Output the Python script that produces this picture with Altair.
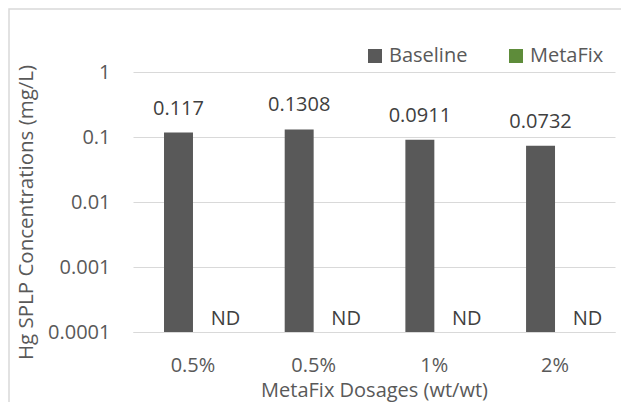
import json
import altair as alt
import pandas as pd

# ---- data ----
groups = ["g1", "g2", "g3", "g4"]
group_labels = ["0.5%", "0.5%", "1%", "2%"]
series = ["Baseline", "MetaFix"]
series_colors = ["#595959", "#5E8C3A"]
baseline_values = [0.117, 0.1308, 0.0911, 0.0732]
baseline_labels = ["0.117", "0.1308", "0.0911", "0.0732"]
metafix_labels = ["ND", "ND", "ND", "ND"]
y_ticks = [0.0001, 0.001, 0.01, 0.1, 1]

FONT = "Open Sans"
AXIS_C = "#595959"
LABEL_C = "#404040"
GRID_C = "#d9d9d9"

bars_df = pd.DataFrame({
    "group": groups,
    "series": ["Baseline"] * len(groups),
    "value": baseline_values,
    "label": baseline_labels,
    "floor": [y_ticks[0]] * len(groups),
})
nd_df = pd.DataFrame({
    "group": groups,
    "series": ["MetaFix"] * len(groups),
    "label": metafix_labels,
    "floor": [y_ticks[0]] * len(groups),
})

label_map = json.dumps(dict(zip(groups, group_labels)))

x_scale = alt.Scale(domain=groups, range=[0, 482], paddingInner=0.52, paddingOuter=0.257)
y_scale = alt.Scale(type="log", domain=[y_ticks[0], y_ticks[-1]])
off_scale = alt.Scale(domain=series)

x_enc = alt.X(
    "group:N", scale=x_scale,
    axis=alt.Axis(
        title="MetaFix Dosages (wt/wt)", labelExpr=f"{label_map}[datum.value]",
        labelAngle=0, labelFont=FONT, labelFontSize=20, labelColor=AXIS_C,
        labelPadding=23, ticks=False, tickSize=0, domainColor=GRID_C, domainWidth=1,
        titleFont=FONT, titleFontSize=20, titleFontWeight="normal", titleColor=AXIS_C,
        titleBaseline="alphabetic", titleY=64, grid=False,
    ),
)
y_enc = alt.Y(
    "value:Q", scale=y_scale,
    axis=alt.Axis(
        title="Hg SPLP Concentrations (mg/L)", values=y_ticks, format="~g",
        labelFont=FONT, labelFontSize=20, labelColor=AXIS_C, labelPadding=23,
        ticks=False, tickSize=0, domain=False, grid=True, gridColor=GRID_C, gridWidth=1,
        titleFont=FONT, titleFontSize=20.5, titleFontWeight="normal", titleColor=AXIS_C,
        titleBaseline="alphabetic", titleX=-101, titleY=140, titleAlign="center",
        titleAnchor="middle",
    ),
)

color_enc = alt.Color(
    "series:N",
    scale=alt.Scale(domain=series, range=series_colors),
    legend=alt.Legend(
        orient="none", legendX=232, legendY=-26, direction="horizontal", title=None,
        symbolType="square", symbolSize=196, symbolStrokeWidth=0,
        labelFont=FONT, labelFontSize=20, labelColor=AXIS_C, labelOffset=4,
        columnPadding=38, labelLimit=300,
    ),
)

bars = alt.Chart(bars_df).mark_bar().encode(
    x=x_enc,
    xOffset=alt.XOffset("series:N", scale=off_scale),
    y=y_enc,
    y2="floor:Q",
    color=color_enc,
)

value_text = alt.Chart(bars_df).mark_text(
    font=FONT, fontSize=20, color=LABEL_C, baseline="alphabetic", dy=-18
).encode(
    x=alt.X("group:N", scale=x_scale),
    xOffset=alt.XOffset("series:N", scale=off_scale),
    y=alt.Y("value:Q", scale=y_scale),
    text="label:N",
)

nd_text = alt.Chart(nd_df).mark_text(
    font=FONT, fontSize=20, color=LABEL_C, baseline="alphabetic", dy=-7, dx=18
).encode(
    x=alt.X("group:N", scale=x_scale),
    xOffset=alt.XOffset("series:N", scale=off_scale),
    y=alt.Y("floor:Q", scale=y_scale),
    text="label:N",
)

frame = alt.Chart(pd.DataFrame({"k": [0]})).mark_rect(
    fill=None, stroke=GRID_C, strokeWidth=1.5
).encode(
    x=alt.value(-124), x2=alt.value(700), y=alt.value(-63), y2=alt.value(600)
)

chart = alt.layer(frame, bars, value_text, nd_text).properties(
    width=488, height=260,
    padding={"left": 125, "top": 64, "right": 0, "bottom": 70},
    autosize=alt.AutoSizeParams(type="none"),
).configure_view(stroke=None).resolve_scale(x="shared")

chart.save("out.html", embed_options={"renderer": "svg", "actions": False})
